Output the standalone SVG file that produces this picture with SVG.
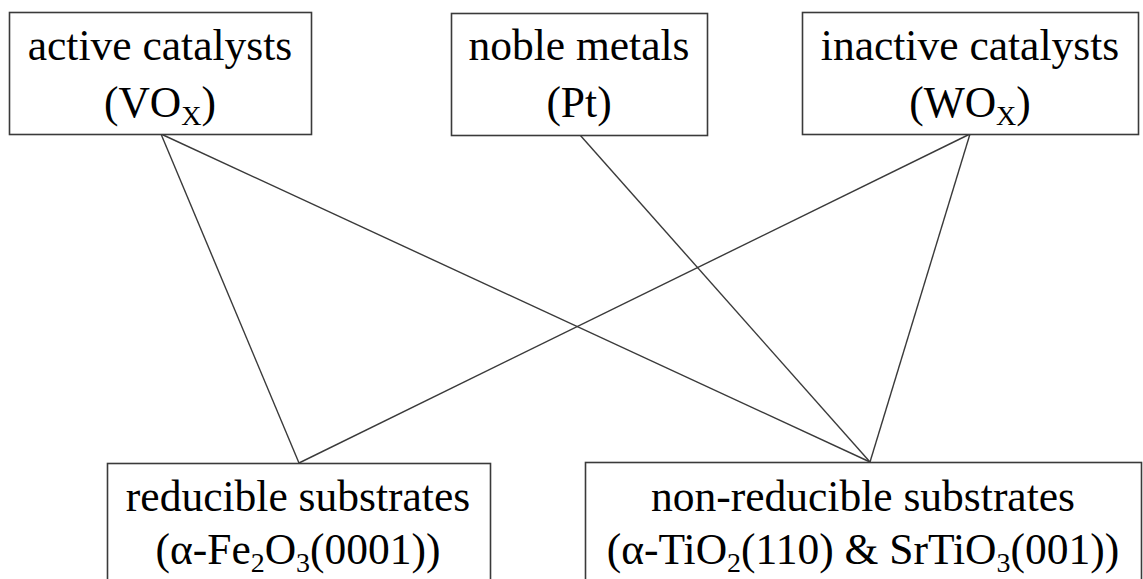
<svg xmlns="http://www.w3.org/2000/svg" width="1143" height="579" viewBox="0 0 1143 579">
<style>
.box{fill:#fff;stroke:#3a3a3a;stroke-width:1.6}
.t{font-family:"Liberation Serif","Times New Roman",serif;font-size:43.5px;fill:#000;text-anchor:middle}
.sub{font-size:28px}
.c{stroke:#3a3a3a;stroke-width:1.4;fill:none}
</style>
<rect width="1143" height="579" fill="#fff"/>
<g id="connectors">
<line class="c" x1="161" y1="134" x2="299" y2="463"/>
<line class="c" x1="161" y1="134" x2="870" y2="462"/>
<line class="c" x1="580" y1="135" x2="870" y2="462"/>
<line class="c" x1="970" y1="134" x2="870" y2="462"/>
<line class="c" x1="970" y1="134" x2="299" y2="463"/>
</g>
<g id="active">
<rect class="box" x="9.5" y="12.5" width="302" height="122"/>
<text class="t" x="160" y="60">active catalysts</text>
<text class="t" x="160" y="117">(VO<tspan class="sub" dy="8">X</tspan><tspan dy="-8">)</tspan></text>
</g>
<g id="noble">
<rect class="box" x="451.5" y="13.5" width="256" height="122"/>
<text class="t" x="579" y="60">noble metals</text>
<text class="t" x="579" y="117">(Pt)</text>
</g>
<g id="inactive">
<rect class="box" x="802.5" y="12.5" width="336" height="122"/>
<text class="t" x="970" y="60">inactive catalysts</text>
<text class="t" x="970" y="117">(WO<tspan class="sub" dy="8">X</tspan><tspan dy="-8">)</tspan></text>
</g>
<g id="reducible">
<rect class="box" x="107.5" y="463.5" width="383" height="130"/>
<text class="t" x="298" y="511">reducible substrates</text>
<text class="t" x="298" y="564">(α-Fe<tspan class="sub" dy="8">2</tspan><tspan dy="-8">O</tspan><tspan class="sub" dy="8">3</tspan><tspan dy="-8">(0001))</tspan></text>
</g>
<g id="nonreducible">
<rect class="box" x="585.5" y="462.5" width="556" height="130"/>
<text class="t" x="863" y="511">non-reducible substrates</text>
<text class="t" x="863" y="564">(α-TiO<tspan class="sub" dy="8">2</tspan><tspan dy="-8">(110) &amp; SrTiO</tspan><tspan class="sub" dy="8">3</tspan><tspan dy="-8">(001))</tspan></text>
</g>
</svg>
